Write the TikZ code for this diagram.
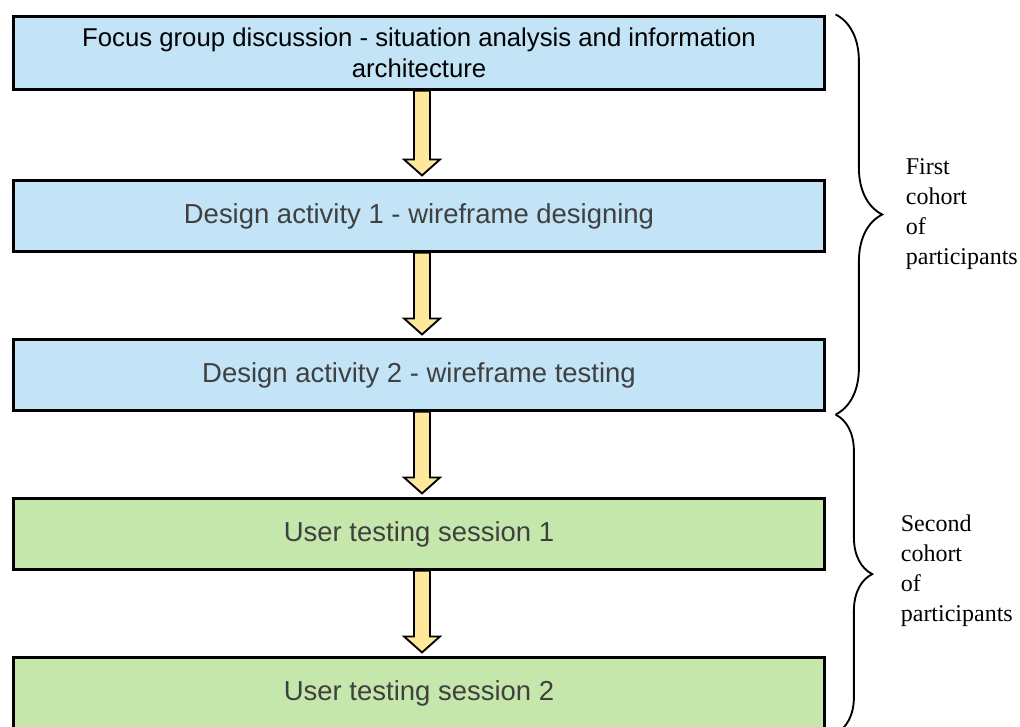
\documentclass[tikz,border=0pt]{standalone}
\usepackage{fontspec}
\setmainfont{Liberation Serif}
\newfontfamily\boxfont{Liberation Sans}
\usetikzlibrary{calc,decorations.pathreplacing}
\definecolor{stageblue}{HTML}{C2E4F6}
\definecolor{stagegreen}{HTML}{C6E7AC}
\definecolor{arrowyellow}{HTML}{FFE79B}
\definecolor{stagetext}{HTML}{404040}
\tikzset{
  stage/.style={draw, line width=1.6pt, minimum width=608.25pt, minimum height=53.25pt,
    inner sep=0pt, align=center, text=stagetext, font=\boxfont\fontsize{20.6}{24}\selectfont},
  firststage/.style={stage, fill=stageblue},
  secondstage/.style={stage, fill=stagegreen},
  flowarrow/.style={draw, line width=1.4pt, fill=arrowyellow, line join=miter},
  cohortbrace/.style={decorate, line width=1.4pt},
  cohort/.style={anchor=west, align=left, inner sep=0pt, font=\fontsize{18}{22.5}\selectfont}
}
\newcommand{\flowarrow}[2]{%
\draw[flowarrow] ($(#1.south)+(-5,0)$) -- ($(#2.north)+(-5,-20)$) -- ($(#2.north)+(-15,-20)$)
  -- ($(#2.north)+(3,-4)$) -- ($(#2.north)+(21,-20)$) -- ($(#2.north)+(11,-20)$)
  -- ($(#1.south)+(11,0)$) -- cycle;}
\begin{document}
\begin{tikzpicture}[x=0.75pt,y=-0.75pt]
\useasboundingbox (0,0) rectangle (1020,726);
\clip (0,0) rectangle (1020,726);
\node[firststage, minimum height=54.75pt, text=black, font=\boxfont\fontsize{19.3}{23.25}\selectfont] (fgd) at (419,53)
  {Focus group discussion - situation analysis and information\\architecture};
\node[firststage] (da1) at (419,216) {Design activity 1 - wireframe designing};
\node[firststage] (da2) at (419,375) {Design activity 2 - wireframe testing};
\node[secondstage] (ut1) at (419,534) {User testing session 1};
\node[secondstage] (ut2) at (419,693) {User testing session 2};
\flowarrow{fgd}{da1}
\flowarrow{da1}{da2}
\flowarrow{da2}{ut1}
\flowarrow{ut1}{ut2}
\coordinate (c1top) at ($(fgd.north east)+(10,-1)$);
\coordinate (c1bot) at ($(da2.south east)+(10,3)$);
\coordinate (c2top) at (c1bot);
\coordinate (c2bot) at ($(ut2.south east)+(10,4)$);
\draw[cohortbrace, decoration={brace, amplitude=35pt}] (c1top) -- (c1bot);
\draw[cohortbrace, decoration={brace, amplitude=27.5pt}] (c2top) -- (c2bot);
\node[cohort] (first) at ($(c1top)!0.5!(c1bot)+(70,0)$) {First\\cohort\\of\\participants};
\node[cohort] (second) at ($(c2top)!0.5!(c2bot)+(65,-3)$) {Second\\cohort\\of\\participants};
\end{tikzpicture}
\end{document}
